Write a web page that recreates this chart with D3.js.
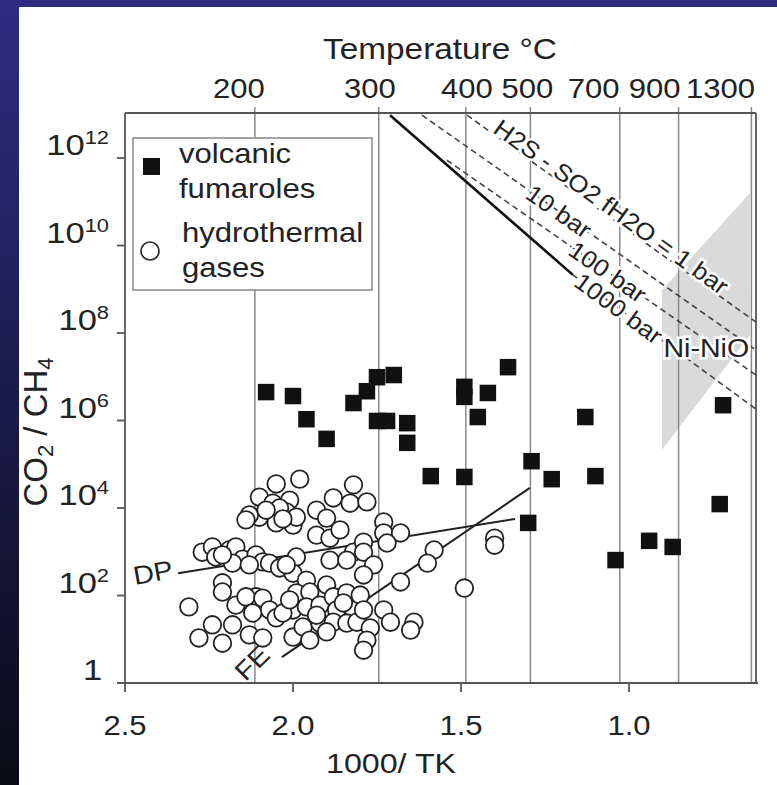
<!DOCTYPE html>
<html lang="en">
<head>
<meta charset="UTF-8">
<title>CO2/CH4 vs temperature</title>
<script src="https://d3js.org/d3.v7.min.js"></script>
<style>
  html, body { margin: 0; padding: 0; background: #15143a; }
  svg { display: block; }
  text { font-family: "Liberation Sans", Arial, Helvetica, sans-serif; fill: #222; }
</style>
</head>
<body>
<svg id="chart" width="777" height="785"></svg>
<script>
// values: [1000/T (K), log10(CO2/CH4)]
const volcanic = [
  [2.08, 6.65], [2.00, 6.56], [1.96, 6.03], [1.90, 5.58], [1.82, 6.40], [1.78, 6.67],
  [1.75, 6.99], [1.70, 7.04], [1.75, 5.99], [1.72, 5.99], [1.66, 5.94], [1.66, 5.49],
  [1.59, 4.73], [1.49, 6.77], [1.49, 6.54], [1.42, 6.63], [1.45, 6.08], [1.36, 7.22],
  [1.49, 4.71], [1.29, 5.07], [1.30, 3.66], [1.13, 6.08], [1.23, 4.66], [1.10, 4.73],
  [0.72, 6.35], [0.73, 4.09], [0.94, 3.25], [0.87, 3.11], [1.04, 2.81]
];

const hydrothermal = [
  [2.05, 4.55], [1.98, 4.66], [2.10, 4.25], [2.06, 4.11], [2.01, 4.18], [2.02, 3.91], [2.10, 3.79],
  [2.13, 3.84], [2.05, 3.66], [2.00, 3.61], [1.99, 3.79], [2.04, 4.00], [1.93, 3.95], [1.88, 4.23],
  [1.82, 4.53], [1.90, 3.77], [1.93, 3.38], [1.89, 3.31], [1.86, 3.50], [1.82, 2.99], [1.89, 2.81],
  [1.83, 4.11], [2.27, 2.99], [2.24, 3.11], [2.23, 2.88], [2.19, 3.04], [2.17, 3.11], [2.15, 2.83],
  [2.18, 2.74], [2.11, 2.93], [2.09, 2.77], [2.07, 2.74], [2.04, 2.63], [1.99, 2.88], [2.00, 2.51],
  [1.96, 2.35], [2.31, 1.74], [2.21, 2.29], [2.21, 2.08], [2.17, 1.78], [2.11, 1.97], [2.14, 1.97],
  [2.09, 1.94], [2.07, 1.67], [2.12, 1.60], [1.99, 2.06], [1.95, 2.08], [2.00, 1.67], [1.96, 1.74],
  [1.92, 1.78], [1.90, 2.24], [1.88, 1.97], [1.87, 1.67], [1.84, 2.06], [1.82, 1.67], [2.05, 1.49],
  [2.03, 1.60], [2.24, 1.33], [2.18, 1.33], [2.28, 1.03], [2.21, 0.91], [2.13, 1.10], [2.09, 1.03],
  [2.00, 1.05], [1.97, 1.28], [1.95, 0.98], [1.92, 1.37], [1.88, 1.39], [1.84, 1.37], [1.81, 1.39],
  [1.78, 4.14], [1.73, 3.68], [1.73, 3.43], [1.68, 3.43], [1.79, 3.22], [1.72, 3.20], [1.79, 2.99],
  [1.84, 2.81], [1.76, 2.70], [1.79, 2.47], [1.58, 3.04], [1.60, 2.74], [1.40, 3.31], [1.40, 3.15],
  [1.68, 2.31], [1.49, 2.17], [1.80, 2.01], [1.79, 1.67], [1.73, 1.67], [1.71, 1.39], [1.64, 1.39],
  [1.65, 1.21], [1.77, 1.26], [1.78, 0.98], [1.79, 0.75], [2.08, 3.95], [2.03, 3.75], [2.14, 3.73],
  [1.93, 1.55], [1.85, 1.83], [2.01, 1.90], [1.90, 1.17], [2.21, 2.93], [2.13, 2.70], [2.02, 2.70]
];

// trend lines through the hydrothermal field
const dpLine = [[2.342, 2.51], [1.339, 3.75]];
const feLine = [[2.033, 0.59], [1.295, 4.46]];

// H2S-SO2 buffer lines (fH2O) and Ni-NiO
const buffer1bar = [[1.482, 12.98], [0.622, 8.25]];
const buffer10bar = [[1.616, 12.98], [0.622, 7.61]];
const buffer100bar = [[1.542, 11.95], [0.622, 7.04]];
const nino1000Solid = [[1.711, 12.98], [1.167, 9.33]];
const nino1000Dashed = [[1.167, 9.33], [0.622, 6.26]];
const greyZone = [[0.902, 8.98], [0.640, 11.20], [0.640, 7.95], [0.902, 5.33]];

const tempTicksC = [200, 300, 400, 500, 700, 900, 1300];
const invTTicks = [2.5, 2.0, 1.5, 1.0];
const ratioTickExps = [0, 2, 4, 6, 8, 10, 12];

// ---- layout
const W = 777, H = 785;
const plotL = 125, plotR = 756, plotT = 113, plotB = 683;
const SX = 1.15; // the source figure is slightly stretched horizontally

const svg = d3.select("#chart");

const x = d3.scaleLinear().domain([2.5, 0.622]).range([plotL, plotR]);
const y = d3.scaleLog().domain([1, Math.pow(10, 13.03)]).range([plotB, plotT]);
const px = d => x(d[0]);
const py = d => y(Math.pow(10, d[1]));

// background
const grad = svg.append("defs").append("linearGradient")
  .attr("id", "bg").attr("x1", 0).attr("y1", 0).attr("x2", 0).attr("y2", 1);
grad.append("stop").attr("offset", "0%").attr("stop-color", "#2f2c82");
grad.append("stop").attr("offset", "100%").attr("stop-color", "#0a0a16");
svg.append("rect").attr("width", W).attr("height", H).attr("fill", "url(#bg)");
svg.append("rect").attr("x", 19).attr("y", 7).attr("width", W - 19).attr("height", H - 7).attr("fill", "#fff");

function label(parent, tx, ty, str, opt = {}) {
  const g = parent.append("g")
    .attr("transform", `translate(${tx},${ty}) rotate(${opt.rotate || 0}) scale(${opt.sx || SX},${opt.sy || 1})`);
  const t = g.append("text")
    .attr("font-size", opt.size || 27)
    .attr("text-anchor", opt.anchor || "middle");
  if (opt.dy) t.attr("dy", opt.dy);
  if (opt.halo) t.attr("stroke", "#fff").attr("stroke-width", 5).attr("paint-order", "stroke");
  if (str !== null) t.text(str);
  return t;
}

// grey field
svg.append("path")
  .attr("d", d3.line().x(px).y(py)(greyZone) + "Z")
  .attr("fill", "#dadada");

// temperature grid lines
const tempX = c => x(1000 / (c + 273.15));
svg.selectAll(".tgrid").data(tempTicksC).enter().append("line")
  .attr("x1", tempX).attr("x2", tempX)
  .attr("y1", plotT - 6).attr("y2", plotB)
  .attr("stroke", "#8a8a8a").attr("stroke-width", 1.5);

// frame and axes
const frame = svg.append("g").attr("stroke", "#555").attr("stroke-width", 1.8);
frame.append("line").attr("x1", plotL).attr("x2", plotR).attr("y1", plotT).attr("y2", plotT);
frame.append("line").attr("x1", plotR).attr("x2", plotR).attr("y1", plotT).attr("y2", plotB);
frame.append("line").attr("x1", plotL).attr("x2", plotL).attr("y1", plotT).attr("y2", plotB);
frame.append("line").attr("x1", plotL - 8).attr("x2", plotR + 2).attr("y1", plotB).attr("y2", plotB);

frame.selectAll(".xt").data(invTTicks).enter().append("line")
  .attr("x1", d => x(d)).attr("x2", d => x(d)).attr("y1", plotB).attr("y2", plotB + 9);
frame.selectAll(".yt").data(ratioTickExps).enter().append("line")
  .attr("x1", plotL - 8).attr("x2", plotL)
  .attr("y1", d => y(Math.pow(10, d))).attr("y2", d => y(Math.pow(10, d)));

// buffer lines
const line = d3.line().x(px).y(py);
const dashed = [buffer1bar, buffer10bar, buffer100bar, nino1000Dashed];
svg.selectAll(".buf").data(dashed).enter().append("path")
  .attr("d", line).attr("fill", "none")
  .attr("stroke", "#444").attr("stroke-width", 1.6).attr("stroke-dasharray", "6,4");
svg.append("path").attr("d", line(nino1000Solid)).attr("fill", "none")
  .attr("stroke", "#111").attr("stroke-width", 2.6);

function alongLabel(seg, t, str, dy) {
  const x1 = px(seg[0]), y1 = py(seg[0]), x2 = px(seg[1]), y2 = py(seg[1]);
  const ang = Math.atan2(y2 - y1, x2 - x1) * 180 / Math.PI;
  label(svg, x1 + (x2 - x1) * t, y1 + (y2 - y1) * t, str,
    { rotate: ang, size: 24, sx: 1.08, dy: dy, halo: true });
}
alongLabel(buffer1bar, 0.48, "H2S - SO2  fH2O = 1 bar", "-1");
alongLabel(buffer10bar, 0.41, "10 bar", "0.35em");
alongLabel(buffer100bar, 0.52, "100 bar", "0.35em");
alongLabel(nino1000Dashed, 0.25, "1000 bar", "0.35em");
label(svg, x(0.77), y(Math.pow(10, 7.45)), "Ni-NiO", { size: 26, sx: 1.1, halo: true });

// DP / FE trend lines
svg.selectAll(".trend").data([dpLine, feLine]).enter().append("path")
  .attr("d", line).attr("fill", "none").attr("stroke", "#222").attr("stroke-width", 2);
label(svg, x(2.354), y(Math.pow(10, 2.4)), "DP", { anchor: "end", rotate: -10, size: 26, sx: 1.1 });
label(svg, x(2.122), y(Math.pow(10, 0.46)), "FE", { rotate: -45, size: 26, sx: 1.1, dy: "0.35em" });

// hydrothermal gases
svg.selectAll(".hyd").data(hydrothermal).enter().append("circle")
  .attr("cx", px).attr("cy", py).attr("r", 8.8)
  .attr("fill", "#fff").attr("stroke", "#222").attr("stroke-width", 1.8);

// volcanic fumaroles
const sq = 16.5;
svg.selectAll(".vol").data(volcanic).enter().append("rect")
  .attr("x", d => px(d) - sq / 2).attr("y", d => py(d) - sq / 2)
  .attr("width", sq).attr("height", sq).attr("fill", "#111");

// tick labels
const topDx = [-16, -9, 1, -3, -26, -24, -31];
tempTicksC.forEach((c, i) => label(svg, tempX(c) + topDx[i], 98, String(c), { size: 27 }));
invTTicks.forEach(v => label(svg, x(v), 735, v.toFixed(1), { size: 27 }));
ratioTickExps.forEach(e => {
  const t = label(svg, plotL - 16, y(Math.pow(10, e)) - 3, e === 0 ? "1" : "10",
    { anchor: "end", size: 30, dx: 0 });
  if (e === 0) t.attr("dx", -6);
  else t.append("tspan").attr("font-size", 19).attr("dy", -11).text(e);
});

// titles
label(svg, 440, 59, "Temperature °C", { size: 29 });
label(svg, 391, 773, "1000/ TK", { size: 28 });
const yt = label(svg, 47, 432, null, { rotate: -90, size: 33, sx: 1 });
yt.append("tspan").text("CO");
yt.append("tspan").attr("font-size", 22).attr("dy", 6).text("2");
yt.append("tspan").attr("dy", -6).text(" / CH");
yt.append("tspan").attr("font-size", 22).attr("dy", 6).text("4");

// legend
const lg = svg.append("g");
lg.append("rect").attr("x", 133).attr("y", 138).attr("width", 239).attr("height", 152)
  .attr("fill", "#fff").attr("stroke", "#888").attr("stroke-width", 1.5);
lg.append("rect").attr("x", 143).attr("y", 158).attr("width", 17).attr("height", 17).attr("fill", "#111");
lg.append("circle").attr("cx", 150).attr("cy", 251).attr("r", 9)
  .attr("fill", "#fff").attr("stroke", "#222").attr("stroke-width", 1.6);
label(lg, 179, 163, "volcanic", { anchor: "start", size: 27 });
label(lg, 179, 198, "fumaroles", { anchor: "start", size: 27 });
label(lg, 182, 242, "hydrothermal", { anchor: "start", size: 27 });
label(lg, 182, 277, "gases", { anchor: "start", size: 27 });
</script>
</body>
</html>
